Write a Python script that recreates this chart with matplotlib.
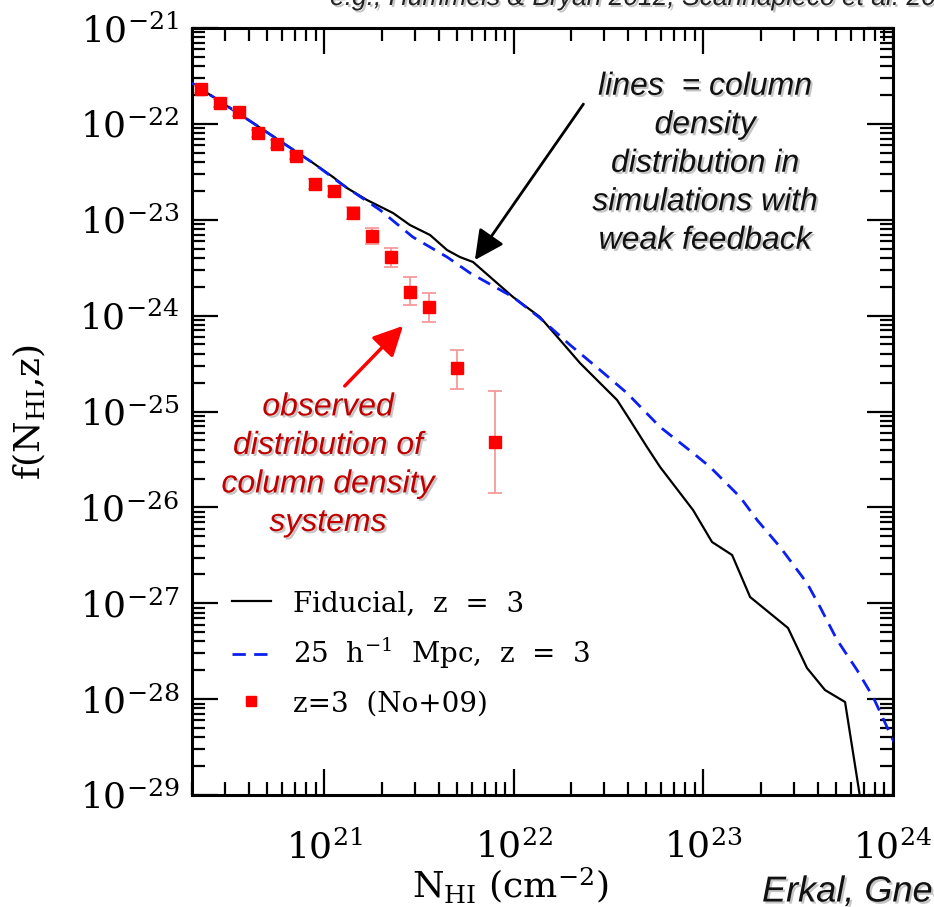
import numpy as np
import matplotlib
matplotlib.use("Agg")
import matplotlib.pyplot as plt
import matplotlib.patheffects as pe

plt.rcParams['font.family'] = ['DejaVu Serif']
plt.rcParams['mathtext.fontset'] = 'dejavuserif'

# Fiducial run, z = 3 (log10 N_HI, log10 f)
fid_logN = [20.301, 20.607, 20.940, 21.045, 21.119, 21.224, 21.362, 21.451, 21.557,
            21.647, 21.715, 21.784, 21.995, 22.137, 22.243, 22.348, 22.454, 22.544,
            22.612, 22.702, 22.771, 22.945, 23.045, 23.151, 23.246, 23.446, 23.546,
            23.641, 23.747, 23.826, 23.858]
fid_logf = [-21.574, -21.970, -22.408, -22.554, -22.669, -22.794, -22.930, -23.055, -23.159,
            -23.316, -23.389, -23.441, -23.806, -24.014, -24.254, -24.494, -24.703, -24.880,
            -25.089, -25.371, -25.579, -26.028, -26.361, -26.497, -26.935, -27.258, -27.675,
            -27.905, -28.030, -29.021, -29.417]

# 25 h^-1 Mpc box, z = 3
box_logN = [20.301, 20.607, 20.940, 21.082, 21.293, 21.466, 21.647, 21.768, 21.995,
            22.137, 22.296, 22.454, 22.596, 22.771, 22.945, 23.035, 23.193, 23.283,
            23.404, 23.546, 23.615, 23.705, 23.810, 23.895, 24.000, 24.037]
box_logf = [-21.574, -21.970, -22.408, -22.617, -22.898, -23.180, -23.389, -23.555, -23.806,
            -24.025, -24.306, -24.567, -24.807, -25.162, -25.433, -25.579, -25.892, -26.132,
            -26.413, -26.789, -27.039, -27.383, -27.696, -27.978, -28.426, -28.583]

# Noterdaeme et al. 2009, z = 3
obs_logN = [20.35, 20.45, 20.55, 20.65, 20.75, 20.85, 20.95, 21.05, 21.15, 21.25,
            21.35, 21.45, 21.55, 21.70, 21.90]
obs_logf = [-21.64, -21.78, -21.88, -22.10, -22.21, -22.33, -22.63, -22.70, -22.93, -23.17,
            -23.39, -23.75, -23.91, -24.55, -25.32]
obs_err_lo = [0.04, 0.04, 0.04, 0.04, 0.04, 0.04, 0.05, 0.05, 0.06, 0.08,
              0.10, 0.14, 0.16, 0.22, 0.53]
obs_err_hi = [0.04, 0.04, 0.04, 0.04, 0.04, 0.04, 0.05, 0.05, 0.06, 0.08,
              0.10, 0.15, 0.15, 0.19, 0.53]

legend_labels = ['Fiducial,  z  =  3', r'25  h$^{-1}$  Mpc,  z  =  3', 'z=3  (No+09)']

fid_N, fid_f = 10**np.array(fid_logN), 10**np.array(fid_logf)
box_N, box_f = 10**np.array(box_logN), 10**np.array(box_logf)
obs_N, obs_f = 10**np.array(obs_logN), 10**np.array(obs_logf)
yerr = [obs_f - 10**(np.array(obs_logf) - obs_err_lo),
        10**(np.array(obs_logf) + obs_err_hi) - obs_f]

fig = plt.figure(figsize=(9.34, 9.07), dpi=100)
ax = fig.add_axes([192/934, 1 - 795/907, 701/934, 767/907])

fid_line, = ax.plot(fid_N, fid_f, color='black', lw=1.6, zorder=3)
box_line, = ax.plot(box_N, box_f, color='#0a1ff0', lw=2.0, ls=(0, (4.8, 3)), zorder=3)
eb = ax.errorbar(obs_N, obs_f, yerr=yerr, fmt='s', color='#ff0000', ms=8.5,
                 ecolor='#f59a9a', elinewidth=1.3, capsize=5, capthick=1.3, zorder=4)

ax.set_xscale('log')
ax.set_yscale('log')
ax.set_xlim(2e20, 1e24)
ax.set_ylim(1e-29, 1e-21)

for s in ax.spines.values():
    s.set_linewidth(2.2)
ax.tick_params(which='both', direction='in', top=True, right=True, width=1.6)
ax.tick_params(which='major', length=19, labelsize=26)
ax.tick_params(which='minor', length=9.5)
ax.tick_params(axis='y', pad=9)
ax.tick_params(axis='x', pad=25)

ax.set_xlabel(r'N$_{\mathrm{HI}}$ (cm$^{-2}$)', fontsize=26)
ax.set_ylabel(r'f(N$_{\mathrm{HI}}$,z)', fontsize=26)
ax.xaxis.set_label_coords(0.454, -0.092)
ax.yaxis.set_label_coords(-0.205, 0.5)

ax.legend([fid_line, box_line, eb[0]], legend_labels, loc='upper left',
          bbox_to_anchor=(0.057, 0.267), frameon=False, fontsize=20,
          borderpad=0, borderaxespad=0, handlelength=1.4,
          handletextpad=0.8, labelspacing=0.68, markerscale=0.85)

shadow = [pe.withSimplePatchShadow(offset=(1.5, -1.5), shadow_rgbFace='0.35', alpha=0.35)]
sans = dict(family='Liberation Sans', style='italic', fontsize=23, ha='center',
            va='center', linespacing=1.37, transform=ax.transAxes)

ax.text(0.732, 0.823, 'lines  = column\ndensity\ndistribution in\nsimulations with\nweak feedback',
        color='#111111', path_effects=shadow, **sans)
ax.text(0.194, 0.430, 'observed\ndistribution of\ncolumn density\nsystems',
        color='#c00000', path_effects=shadow, **sans)

ax.annotate('', xy=(6.1e21, 3.6e-24), xytext=(2.37e22, 1.7e-22),
            arrowprops=dict(arrowstyle='-|>,head_length=0.9,head_width=0.45',
                            color='black', lw=2, mutation_scale=20))
ax.annotate('', xy=(2.66e21, 8.2e-25), xytext=(1.25e21, 1.76e-25),
            arrowprops=dict(arrowstyle='-|>,head_length=0.9,head_width=0.45',
                            color='#ff0000', lw=2.5, mutation_scale=20))

fig.text(330/934, 1 - 5/907, 'e.g., Hummels & Bryan 2012, Scannapieco et al. 2012',
         family='Liberation Sans', style='italic', fontsize=19, color='#222222',
         va='baseline', ha='left', path_effects=shadow)
fig.text(762/934, 1 - 892/907, 'Erkal, Gnedin & Kravtsov 2012',
         family='Liberation Sans', style='italic', fontsize=26, color='#111111',
         va='center', ha='left', path_effects=shadow)

fig.savefig('out.png', dpi=100)
